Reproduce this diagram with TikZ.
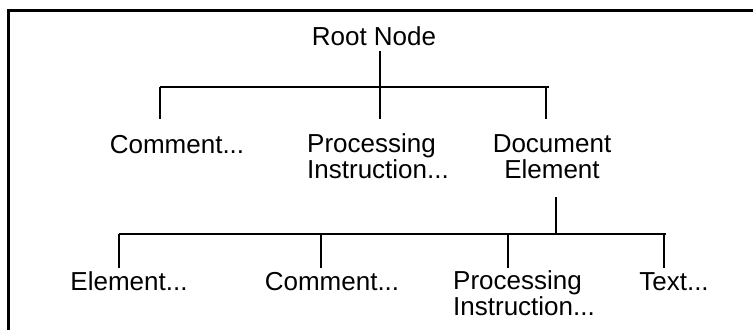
\documentclass[tikz,border=0pt]{standalone}
\usepackage{fontspec}
\setmainfont{Liberation Sans}
\usetikzlibrary{positioning, calc}

\begin{document}
\begin{tikzpicture}[
        x=1pt, y=-1pt,
        % plain text labels, placed on their (last) baseline
        every node/.style={font=\fontsize{26}{26}\selectfont, inner sep=0pt, anchor=base},
        branch/.style={line width=2.8pt},
        frame/.style={line width=3pt}
    ]
    \useasboundingbox (0,0) rectangle (753,330);

    % --- Frame (open to the right and below) ---
    \draw[frame] (753,10) -- (8,10) -- (8,330);

    % --- Nodes ---
    \node (root) at (374,45) {Root Node};

    \node (cmt) at (177,153) {Comment...};
    \node[anchor=base west, align=left] (proc) at (307,178) {Processing\\Instruction...};
    \node[align=center] (docel) at (552,178) {Document\\Element};

    \node (elem) at (129,290) {Element...};
    \node (cmt2) at (332,290) {Comment...};
    \node[anchor=base west, align=left] (proc2) at (453,315) {Processing\\Instruction...};
    \node (txt) at (674,290) {Text...};

    % --- Bar corners ---
    \coordinate (hub) at (380,87);
    \coordinate (hubb) at (556,234);

    % --- Branches: root level ---
    \draw[branch] (hub) -- ++(0,-36);
    \draw[branch] (hub -| cmt) ++(-17,0) -- (549,87);
    \foreach \x in {160,380,546}
        \draw[branch] (\x,87) -- (\x,119);

    % --- Branches: under Document Element ---
    \draw[branch] (hubb) -- ++(0,-37);
    \draw[branch] (119,234) -- (666,234);
    \foreach \x in {119,321,508,664}
        \draw[branch] (\x,234) -- (\x,268);

\end{tikzpicture}
\end{document}
